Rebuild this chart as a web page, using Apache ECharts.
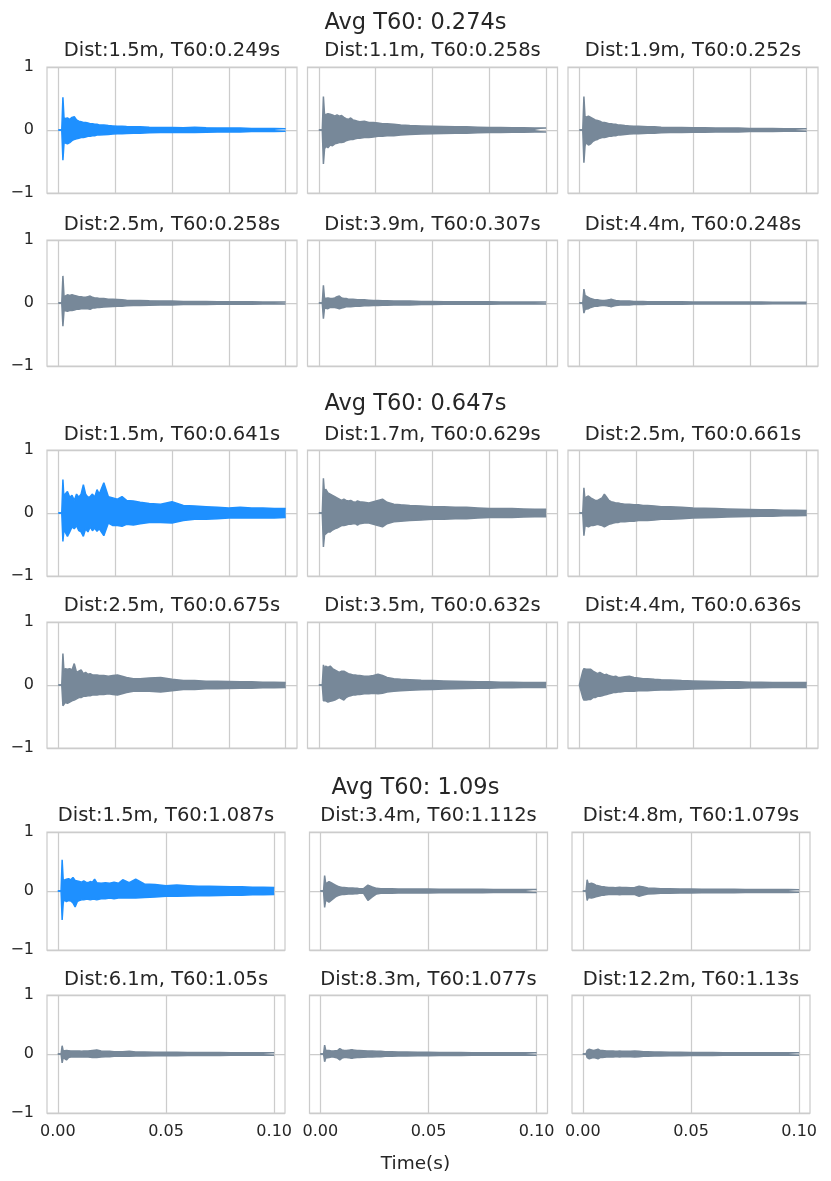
<!DOCTYPE html>
<html>
<head>
<meta charset="utf-8">
<script src="https://cdn.jsdelivr.net/npm/echarts@6/dist/echarts.min.js"></script>
<style>
  html, body { margin: 0; padding: 0; background: #fff; }
  #chart { width: 831px; height: 1181px; }
</style>
</head>
<body>
<div id="chart"></div>
<script>
// 时间点（秒），所有子图共用
const time = [0, 0.0015, 0.002, 0.0025, 0.003, 0.004, 0.005, 0.006, 0.007, 0.008,
  0.009, 0.010, 0.011, 0.012, 0.013, 0.014, 0.015, 0.016, 0.017, 0.018,
  0.020, 0.022, 0.024, 0.026, 0.028, 0.030, 0.033, 0.036, 0.040, 0.045,
  0.050, 0.055, 0.060, 0.065, 0.070, 0.075, 0.080, 0.085, 0.090, 0.095, 0.100]

const groupTitles = ['Avg T60: 0.274s', 'Avg T60: 0.647s', 'Avg T60: 1.09s']
const panelTitles = [
  'Dist:1.5m, T60:0.249s', 'Dist:1.1m, T60:0.258s', 'Dist:1.9m, T60:0.252s',
  'Dist:2.5m, T60:0.258s', 'Dist:3.9m, T60:0.307s', 'Dist:4.4m, T60:0.248s',
  'Dist:1.5m, T60:0.641s', 'Dist:1.7m, T60:0.629s', 'Dist:2.5m, T60:0.661s',
  'Dist:2.5m, T60:0.675s', 'Dist:3.5m, T60:0.632s', 'Dist:4.4m, T60:0.636s',
  'Dist:1.5m, T60:1.087s', 'Dist:3.4m, T60:1.112s', 'Dist:4.8m, T60:1.079s',
  'Dist:6.1m, T60:1.05s', 'Dist:8.3m, T60:1.077s', 'Dist:12.2m, T60:1.13s'
]
const xTickLabels = [0, 0.05, 0.10]

// 波形上/下包络
const upper1 = [0, 0, .52, .18, .2, .19, .17, .2, .21, .16, .14, .13, .12, .12, .11, .1, .1, .09, .09, .08, .08, .07, .065, .06, .06, .055, .05, .05, .045, .04, .04, .035, .045, .035, .03, .03, .03, .025, .025, .025, .02]
const lower1 = [0, 0, -.48, -.2, -.17, -.22, -.2, -.17, -.15, -.14, -.13, -.12, -.12, -.11, -.1, -.1, -.09, -.09, -.08, -.08, -.075, -.07, -.065, -.06, -.06, -.055, -.05, -.05, -.045, -.04, -.04, -.035, -.04, -.035, -.03, -.03, -.03, -.025, -.025, -.025, -.02]
const upper2 = [0, 0, .53, .24, .26, .26, .25, .24, .22, .24, .22, .23, .2, .18, .17, .19, .16, .15, .14, .13, .14, .12, .12, .11, .1, .1, .09, .08, .07, .065, .06, .055, .05, .05, .045, .04, .04, .035, .035, .03, .03]
const lower2 = [0, 0, -.54, -.3, -.26, -.28, -.24, -.25, -.22, -.21, -.2, -.2, -.19, -.17, -.16, -.15, -.15, -.14, -.13, -.13, -.12, -.12, -.11, -.1, -.1, -.09, -.09, -.08, -.07, -.065, -.06, -.055, -.05, -.05, -.045, -.04, -.04, -.035, -.035, -.03, -.03]
const upper3 = [0, 0, .53, .2, .23, .22, .2, .18, .16, .15, .14, .12, .12, .11, .1, .1, .09, .09, .08, .08, .07, .065, .06, .06, .055, .05, .05, .045, .04, .04, .035, .035, .03, .03, .03, .025, .025, .025, .02, .02, .02]
const lower3 = [0, 0, -.52, -.25, -.2, -.24, -.22, -.18, -.16, -.15, -.13, -.12, -.12, -.11, -.1, -.1, -.09, -.09, -.08, -.08, -.07, -.065, -.06, -.06, -.055, -.05, -.05, -.045, -.04, -.04, -.035, -.035, -.03, -.03, -.03, -.025, -.025, -.025, -.02, -.02, -.02]
const upper4 = [0, 0, .43, .1, .13, .13, .12, .13, .12, .11, .1, .1, .09, .09, .1, .11, .09, .08, .08, .07, .07, .06, .06, .055, .05, .045, .04, .04, .035, .03, .03, .025, .025, .025, .02, .02, .02, .02, .015, .015, .015]
const lower4 = [0, 0, -.37, -.12, -.13, -.13, -.12, -.12, -.11, -.1, -.1, -.09, -.09, -.09, -.09, -.1, -.08, -.08, -.07, -.07, -.065, -.06, -.055, -.05, -.05, -.045, -.04, -.04, -.035, -.03, -.03, -.025, -.025, -.025, -.02, -.02, -.02, -.02, -.015, -.015, -.015]
const upper5 = [0, 0, .28, .07, .08, .08, .07, .07, .08, .1, .11, .08, .07, .07, .06, .06, .06, .055, .05, .05, .05, .045, .04, .04, .035, .035, .03, .03, .03, .025, .025, .02, .02, .02, .02, .02, .015, .015, .015, .015, .015]
const lower5 = [0, 0, -.25, -.08, -.08, -.09, -.07, -.07, -.07, -.08, -.09, -.08, -.07, -.06, -.06, -.06, -.055, -.05, -.05, -.05, -.045, -.045, -.04, -.04, -.035, -.035, -.03, -.03, -.03, -.025, -.025, -.02, -.02, -.02, -.02, -.02, -.015, -.015, -.015, -.015, -.015]
const upper6 = [0, 0, .22, .12, .1, .09, .07, .06, .05, .05, .045, .04, .04, .045, .05, .06, .05, .04, .035, .03, .03, .03, .025, .025, .025, .02, .02, .02, .02, .02, .015, .015, .015, .015, .015, .015, .015, .012, .012, .012, .012]
const lower6 = [0, 0, -.16, -.1, -.1, -.09, -.07, -.06, -.05, -.05, -.045, -.04, -.04, -.045, -.05, -.06, -.05, -.04, -.035, -.03, -.03, -.03, -.025, -.025, -.025, -.02, -.02, -.02, -.02, -.02, -.015, -.015, -.015, -.015, -.015, -.015, -.015, -.012, -.012, -.012, -.012]
const upper7 = [0, 0, .53, .2, .3, .34, .25, .28, .2, .3, .25, .3, .45, .3, .25, .26, .3, .25, .37, .3, .48, .26, .24, .22, .26, .2, .19, .17, .15, .14, .18, .12, .11, .1, .09, .08, .09, .08, .08, .07, .07]
const lower7 = [0, 0, -.45, -.25, -.3, -.37, -.3, -.22, -.25, -.2, -.28, -.3, -.37, -.25, -.3, -.22, -.28, -.24, -.29, -.25, -.36, -.16, -.2, -.2, -.21, -.18, -.19, -.17, -.15, -.15, -.16, -.12, -.1, -.1, -.09, -.08, -.08, -.08, -.08, -.08, -.07]
const upper8 = [0, 0, .55, .3, .38, .32, .3, .28, .26, .24, .22, .2, .22, .2, .19, .2, .18, .17, .19, .18, .17, .16, .18, .2, .22, .17, .14, .13, .12, .11, .1, .1, .09, .09, .08, .07, .07, .07, .065, .06, .06]
const lower8 = [0, 0, -.54, -.35, -.33, -.3, -.3, -.27, -.25, -.24, -.22, -.2, -.2, -.19, -.18, -.18, -.17, -.17, -.19, -.17, -.16, -.16, -.18, -.2, -.22, -.17, -.14, -.13, -.12, -.11, -.1, -.1, -.09, -.09, -.08, -.07, -.07, -.07, -.065, -.06, -.06]
const upper9 = [0, 0, .4, .2, .25, .27, .24, .22, .2, .2, .22, .24, .3, .25, .2, .18, .17, .16, .16, .15, .14, .14, .13, .13, .12, .12, .11, .1, .1, .09, .08, .075, .07, .065, .06, .055, .05, .05, .045, .045, .04]
const lower9 = [0, 0, -.36, -.2, -.19, -.22, -.2, -.2, -.19, -.18, -.19, -.2, -.22, -.2, -.18, -.17, -.16, -.15, -.15, -.14, -.14, -.13, -.13, -.12, -.12, -.12, -.11, -.1, -.1, -.09, -.08, -.075, -.07, -.065, -.06, -.055, -.05, -.05, -.045, -.045, -.04]
const upper10 = [0, 0, .5, .2, .26, .25, .26, .24, .34, .2, .22, .24, .18, .2, .17, .18, .16, .16, .16, .15, .15, .14, .15, .16, .14, .12, .1, .1, .11, .12, .09, .07, .07, .06, .06, .055, .05, .05, .045, .045, .04]
const lower10 = [0, 0, -.33, -.3, -.28, -.29, -.27, -.25, -.24, -.22, -.2, -.2, -.18, -.18, -.17, -.17, -.16, -.16, -.16, -.15, -.15, -.14, -.15, -.16, -.14, -.12, -.1, -.1, -.1, -.11, -.09, -.07, -.07, -.06, -.06, -.055, -.05, -.05, -.045, -.045, -.04]
const upper11 = [0, 0, .32, .25, .3, .28, .3, .26, .24, .22, .2, .22, .22, .2, .18, .17, .16, .16, .15, .15, .14, .14, .15, .17, .15, .12, .1, .09, .085, .075, .07, .065, .06, .055, .05, .05, .045, .045, .04, .04, .04]
const lower11 = [0, 0, -.25, -.22, -.25, -.27, -.26, -.25, -.24, -.22, -.2, -.22, -.24, -.2, -.18, -.17, -.16, -.16, -.15, -.15, -.14, -.14, -.13, -.14, -.13, -.11, -.1, -.09, -.085, -.075, -.07, -.065, -.06, -.055, -.05, -.05, -.045, -.045, -.04, -.04, -.04]
const upper12 = [0, .22, .26, .24, .25, .25, .25, .22, .2, .18, .2, .18, .16, .17, .15, .14, .13, .14, .12, .12, .13, .14, .12, .11, .1, .1, .09, .085, .08, .07, .065, .06, .055, .05, .05, .045, .045, .04, .04, .04, .04]
const lower12 = [0, -.2, -.24, -.22, -.24, -.23, -.23, -.2, -.2, -.18, -.18, -.17, -.16, -.15, -.14, -.13, -.12, -.12, -.11, -.11, -.1, -.1, -.1, -.09, -.09, -.09, -.085, -.08, -.08, -.07, -.065, -.06, -.055, -.05, -.05, -.045, -.045, -.04, -.04, -.04, -.04]
const upper13 = [0, 0, .53, .18, .21, .2, .21, .19, .23, .18, .17, .16, .15, .17, .15, .14, .16, .15, .2, .14, .13, .14, .13, .15, .13, .19, .14, .2, .12, .11, .09, .1, .09, .08, .08, .075, .07, .07, .065, .065, .06]
const lower13 = [0, 0, -.49, -.2, -.15, -.18, -.16, -.17, -.2, -.27, -.18, -.16, -.15, -.15, -.14, -.14, -.15, -.14, -.14, -.15, -.13, -.13, -.12, -.13, -.12, -.12, -.12, -.12, -.11, -.1, -.09, -.09, -.085, -.08, -.08, -.075, -.07, -.07, -.065, -.065, -.06]
const upper14 = [0, 0, .26, .12, .15, .16, .14, .12, .1, .08, .07, .06, .06, .055, .05, .05, .05, .045, .045, .04, .04, .1, .07, .045, .04, .04, .04, .035, .035, .035, .035, .03, .03, .03, .03, .03, .025, .025, .025, .025, .025]
const lower14 = [0, 0, -.28, -.15, -.17, -.19, -.16, -.13, -.1, -.08, -.07, -.06, -.06, -.055, -.05, -.05, -.05, -.045, -.045, -.04, -.04, -.16, -.1, -.05, -.04, -.04, -.04, -.035, -.035, -.035, -.035, -.03, -.03, -.03, -.03, -.03, -.025, -.025, -.025, -.025, -.025]
const upper15 = [0, 0, .19, .12, .13, .13, .12, .1, .09, .08, .07, .07, .065, .06, .06, .06, .055, .06, .065, .06, .06, .055, .06, .08, .07, .05, .045, .04, .04, .035, .035, .03, .03, .03, .03, .025, .025, .025, .025, .025, .02]
const lower15 = [0, 0, -.16, -.11, -.12, -.12, -.11, -.1, -.09, -.08, -.07, -.07, -.065, -.06, -.06, -.06, -.055, -.06, -.065, -.06, -.06, -.055, -.06, -.09, -.07, -.05, -.045, -.04, -.04, -.035, -.035, -.03, -.03, -.03, -.03, -.025, -.025, -.025, -.025, -.025, -.02]
const upper16 = [0, 0, .14, .05, .06, .06, .055, .05, .05, .05, .05, .05, .045, .05, .05, .05, .055, .06, .065, .07, .05, .045, .045, .04, .04, .04, .045, .035, .035, .03, .03, .03, .025, .025, .025, .025, .02, .02, .02, .02, .02]
const lower16 = [0, 0, -.15, -.06, -.07, -.1, -.06, -.05, -.05, -.05, -.05, -.05, -.045, -.05, -.05, -.05, -.055, -.06, -.06, -.06, -.05, -.045, -.045, -.04, -.04, -.04, -.04, -.035, -.035, -.03, -.03, -.03, -.025, -.025, -.025, -.025, -.02, -.02, -.02, -.02, -.02]
const upper17 = [0, 0, .15, .06, .07, .06, .05, .05, .055, .06, .09, .07, .06, .06, .065, .07, .07, .065, .06, .06, .055, .05, .05, .045, .045, .04, .04, .035, .035, .03, .03, .025, .025, .025, .02, .02, .02, .02, .02, .02, .02]
const lower17 = [0, 0, -.13, -.07, -.08, -.06, -.05, -.05, -.06, -.07, -.1, -.07, -.06, -.06, -.065, -.07, -.07, -.065, -.06, -.06, -.055, -.05, -.05, -.045, -.045, -.04, -.04, -.035, -.035, -.03, -.03, -.025, -.025, -.025, -.02, -.02, -.02, -.02, -.02, -.02, -.02]
const upper18 = [0, 0, .06, .09, .08, .07, .06, .07, .08, .06, .06, .055, .05, .05, .05, .05, .045, .045, .05, .045, .045, .045, .05, .045, .04, .04, .035, .035, .03, .03, .025, .025, .025, .02, .02, .02, .02, .02, .02, .02, .02]
const lower18 = [0, 0, -.06, -.09, -.08, -.07, -.06, -.07, -.08, -.06, -.06, -.055, -.05, -.05, -.05, -.05, -.045, -.045, -.05, -.045, -.045, -.045, -.05, -.045, -.04, -.04, -.035, -.035, -.03, -.03, -.025, -.025, -.025, -.02, -.02, -.02, -.02, -.02, -.02, -.02, -.02]

const upperList = [upper1, upper2, upper3, upper4, upper5, upper6, upper7, upper8, upper9,
  upper10, upper11, upper12, upper13, upper14, upper15, upper16, upper17, upper18]
const lowerList = [lower1, lower2, lower3, lower4, lower5, lower6, lower7, lower8, lower9,
  lower10, lower11, lower12, lower13, lower14, lower15, lower16, lower17, lower18]

// 版式（像素）
const FONT = 'DejaVu Sans'
const TEXT = '#262626'
const GRID_C = '#cccccc'
const colLeft = [[47, 307.5, 568], [47, 307.5, 568], [47, 309.5, 572]]
const colWidth = [250, 250, 238]
const rowTop = [[67, 240], [450, 622], [832, 995]]
const rowHeight = [126, 126, 118]
const titleY = [[50.5, 224.5], [434.5, 605.5], [816, 979.5]]
const supY = [23, 404.5, 788]

const grids = []
const xAxes = []
const yAxes = []
const series = []
const graphics = []

function txt (text, x, y, size) {
  return {
    type: 'text',
    x: x,
    y: y,
    silent: true,
    style: {
      text: text,
      fill: TEXT,
      font: size + 'px "' + FONT + '"',
      align: 'center',
      verticalAlign: 'middle',
      textAlign: 'center',
      textVerticalAlign: 'middle'
    }
  }
}

for (let g = 0; g < 3; g++) {
  graphics.push(txt(groupTitles[g], 415.5, supY[g], 22.5))
  for (let r = 0; r < 2; r++) {
    for (let c = 0; c < 3; c++) {
      const i = g * 6 + r * 3 + c
      const left = colLeft[g][c]
      const w = colWidth[g]
      const color = (r === 0 && c === 0) ? '#1E90FF' : '#778899'
      const bottomRow = (g === 2 && r === 1)
      grids.push({
        left: left,
        top: rowTop[g][r],
        width: w,
        height: rowHeight[g],
        show: true,
        borderColor: GRID_C,
        borderWidth: 1.25,
        containLabel: false,
        outerBoundsMode: 'none'
      })
      xAxes.push({
        gridIndex: i,
        type: 'value',
        min: -0.005,
        max: 0.105,
        axisLine: {show: false},
        axisTick: {show: false, customValues: g < 2 ? [0, 0.025, 0.05, 0.075, 0.1] : xTickLabels},
        splitLine: {show: true, lineStyle: {color: GRID_C, width: 1.25}},
        axisLabel: {
          show: bottomRow,
          customValues: xTickLabels,
          formatter: v => v.toFixed(2),
          fontSize: 16,
          fontFamily: FONT,
          color: TEXT,
          margin: 11
        }
      })
      yAxes.push({
        gridIndex: i,
        type: 'value',
        min: -1,
        max: 1,
        interval: 1,
        axisLine: {show: false},
        axisTick: {show: false},
        splitLine: {show: true, lineStyle: {color: GRID_C, width: 1.25}},
        axisLabel: {
          show: c === 0,
          formatter: v => (v < 0 ? '\u2212' + Math.abs(v) : String(v)),
          fontSize: 16,
          fontFamily: FONT,
          color: TEXT,
          margin: 13
        }
      })
      const envs = [upperList[i], lowerList[i]]
      envs.forEach(env => {
        series.push({
          type: 'line',
          xAxisIndex: i,
          yAxisIndex: i,
          data: time.map((t, k) => [t, env[k]]),
          symbol: 'none',
          silent: true,
          lineStyle: {color: color, width: 1.5},
          itemStyle: {color: color},
          areaStyle: {color: color, opacity: 1}
        })
      })
      graphics.push(txt(panelTitles[i], left + w / 2, titleY[g][r], 19.5))
    }
  }
}
graphics.push(txt('Time(s)', 415.5, 1164, 18.5))

const chart = echarts.init(document.getElementById('chart'), null, {renderer: 'canvas'})
chart.setOption({
  animation: false,
  backgroundColor: '#ffffff',
  textStyle: {fontFamily: FONT},
  grid: grids,
  xAxis: xAxes,
  yAxis: yAxes,
  series: series,
  graphic: graphics
})
</script>
</body>
</html>
